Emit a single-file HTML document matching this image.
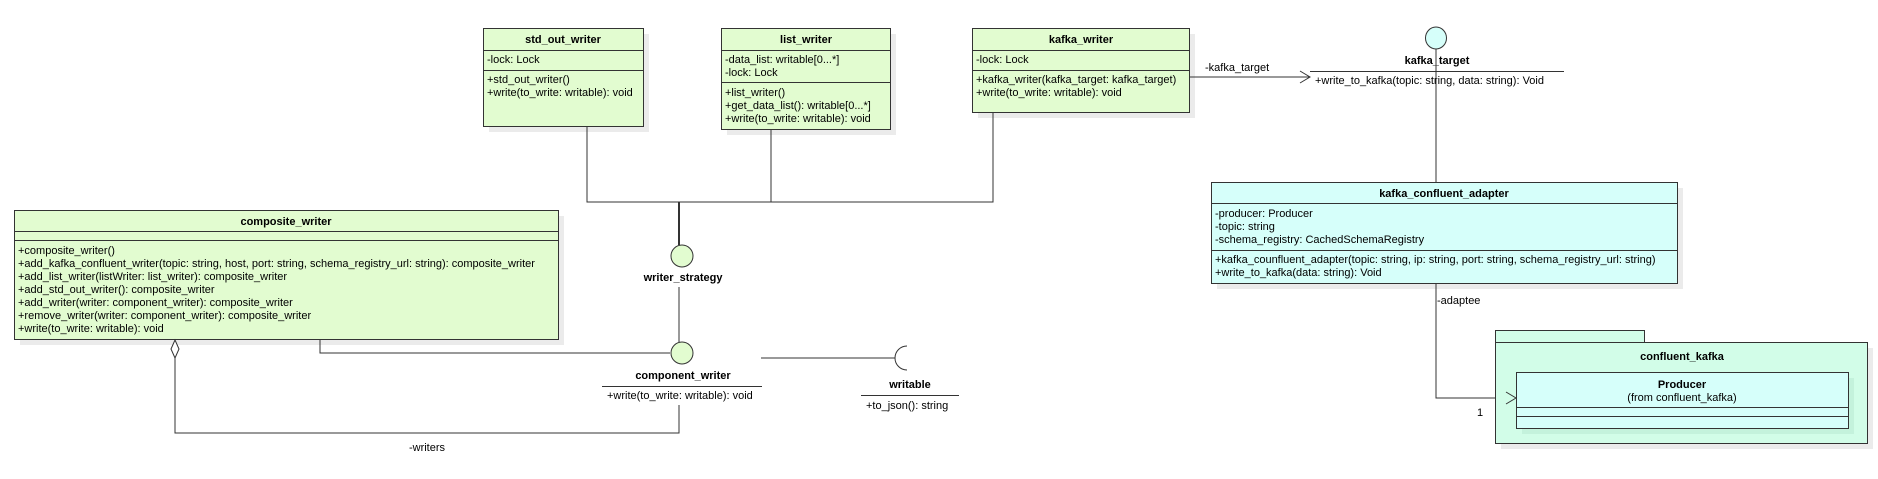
<!DOCTYPE html>
<html><head><meta charset="utf-8"><style>
html,body{margin:0;padding:0;background:#fff;}
svg{display:block;font-family:"Liberation Sans",Arial,sans-serif;font-size:11px;}
.b{font-weight:bold;}
</style></head><body>
<svg width="1878" height="479" viewBox="0 0 1878 479" xmlns="http://www.w3.org/2000/svg">
<g fill="#ebebeb">
<rect x="489" y="34" width="160" height="98"/>
<rect x="727" y="34" width="169" height="101"/>
<rect x="978" y="34" width="217" height="84"/>
<rect x="20" y="216" width="544" height="129"/>
<rect x="1217" y="188" width="466" height="101"/>
<rect x="1501" y="348" width="372" height="101"/>
</g>
<g fill="none" stroke="#333" stroke-width="1">
<!-- connectors -->
<polyline points="587,126 587,202 993,202 993,112"/>
<line x1="771" y1="129" x2="771" y2="202"/>
<line x1="679" y1="202" x2="679" y2="245" stroke-width="2"/>
<line x1="679" y1="287" x2="679" y2="342"/>
<polyline points="320,339 320,353 670,353"/>
<polyline points="679,405 679,433 175,433 175,358"/>
<line x1="761" y1="358" x2="895" y2="358"/>
<path d="M907,346 A12,12 0 0 0 907,370"/>
<line x1="1189" y1="77" x2="1310" y2="77"/>
<polyline points="1300,71 1310,77 1300,83"/>
<line x1="1436" y1="49" x2="1436" y2="182"/>
<polyline points="1436,283 1436,398 1516,398"/>
<polyline points="1506,392 1516,398 1506,404"/>
</g>
<!-- std_out_writer -->
<rect x="483.5" y="28.5" width="160" height="98" fill="#e2fcd0" stroke="#333"/>
<line x1="483" y1="50.5" x2="644" y2="50.5" stroke="#333"/>
<line x1="483" y1="70.5" x2="644" y2="70.5" stroke="#333"/>
<text x="563" y="43" class="b" text-anchor="middle">std_out_writer</text>
<text x="487" y="63">-lock: Lock</text>
<text x="487" y="83">+std_out_writer()</text>
<text x="487" y="96">+write(to_write: writable): void</text>
<!-- list_writer -->
<rect x="721.5" y="28.5" width="169" height="101" fill="#e2fcd0" stroke="#333"/>
<line x1="721" y1="50.5" x2="891" y2="50.5" stroke="#333"/>
<line x1="721" y1="82.5" x2="891" y2="82.5" stroke="#333"/>
<text x="806" y="43" class="b" text-anchor="middle">list_writer</text>
<text x="725" y="63">-data_list: writable[0...*]</text>
<text x="725" y="76">-lock: Lock</text>
<text x="725" y="96">+list_writer()</text>
<text x="725" y="109">+get_data_list(): writable[0...*]</text>
<text x="725" y="122">+write(to_write: writable): void</text>
<!-- kafka_writer -->
<rect x="972.5" y="28.5" width="217" height="84" fill="#e2fcd0" stroke="#333"/>
<line x1="972" y1="50.5" x2="1190" y2="50.5" stroke="#333"/>
<line x1="972" y1="70.5" x2="1190" y2="70.5" stroke="#333"/>
<text x="1081" y="43" class="b" text-anchor="middle">kafka_writer</text>
<text x="976" y="63">-lock: Lock</text>
<text x="976" y="83">+kafka_writer(kafka_target: kafka_target)</text>
<text x="976" y="96">+write(to_write: writable): void</text>
<text x="1205" y="71">-kafka_target</text>
<!-- composite_writer -->
<rect x="14.5" y="210.5" width="544" height="129" fill="#e2fcd0" stroke="#333"/>
<line x1="14" y1="231.5" x2="559" y2="231.5" stroke="#333"/>
<line x1="14" y1="240.5" x2="559" y2="240.5" stroke="#333"/>
<text x="286" y="225" class="b" text-anchor="middle">composite_writer</text>
<text x="18" y="254">+composite_writer()</text>
<text x="18" y="267">+add_kafka_confluent_writer(topic: string, host, port: string, schema_registry_url: string): composite_writer</text>
<text x="18" y="280">+add_list_writer(listWriter: list_writer): composite_writer</text>
<text x="18" y="293">+add_std_out_writer(): composite_writer</text>
<text x="18" y="306">+add_writer(writer: component_writer): composite_writer</text>
<text x="18" y="319">+remove_writer(writer: component_writer): composite_writer</text>
<text x="18" y="332">+write(to_write: writable): void</text>
<polygon points="175,340 179,349 175,358 171,349" fill="#fff" stroke="#333"/>
<text x="427" y="451" text-anchor="middle">-writers</text>
<!-- interfaces -->
<ellipse cx="682" cy="256" rx="11" ry="11" fill="#e2fcd0" stroke="#333"/>
<text x="683" y="281" class="b" text-anchor="middle">writer_strategy</text>
<ellipse cx="682" cy="353" rx="11" ry="11" fill="#e2fcd0" stroke="#333"/>
<text x="683" y="379" class="b" text-anchor="middle">component_writer</text>
<line x1="602" y1="386.5" x2="762" y2="386.5" stroke="#333"/>
<text x="607" y="399">+write(to_write: writable): void</text>
<text x="910" y="388" class="b" text-anchor="middle">writable</text>
<line x1="861" y1="395.5" x2="959" y2="395.5" stroke="#333"/>
<text x="866" y="409">+to_json(): string</text>
<ellipse cx="1436" cy="38" rx="10.5" ry="11" fill="#d6fffa" stroke="#333"/>
<text x="1437" y="64" class="b" text-anchor="middle">kafka_target</text>
<line x1="1310" y1="71.5" x2="1564" y2="71.5" stroke="#333"/>
<text x="1315" y="84">+write_to_kafka(topic: string, data: string): Void</text>
<line x1="1436" y1="49" x2="1436" y2="90" stroke="#333"/>
<!-- adapter -->
<rect x="1211.5" y="182.5" width="466" height="101" fill="#d6fffa" stroke="#333"/>
<line x1="1211" y1="203.5" x2="1678" y2="203.5" stroke="#333"/>
<line x1="1211" y1="250.5" x2="1678" y2="250.5" stroke="#333"/>
<text x="1444" y="197" class="b" text-anchor="middle">kafka_confluent_adapter</text>
<text x="1215" y="217">-producer: Producer</text>
<text x="1215" y="230">-topic: string</text>
<text x="1215" y="243">-schema_registry: CachedSchemaRegistry</text>
<text x="1215" y="263">+kafka_counfluent_adapter(topic: string, ip: string, port: string, schema_registry_url: string)</text>
<text x="1215" y="276">+write_to_kafka(data: string): Void</text>
<text x="1437" y="304">-adaptee</text>
<text x="1477" y="416">1</text>
<!-- package -->
<rect x="1495.5" y="330.5" width="149" height="12" fill="#d2fde8" stroke="#333"/>
<rect x="1495.5" y="342.5" width="372" height="101" fill="#d2fde8" stroke="#333"/>
<text x="1682" y="360" class="b" text-anchor="middle">confluent_kafka</text>
<rect x="1522" y="378" width="332" height="56" fill="#c4f2dc"/>
<rect x="1516.5" y="372.5" width="332" height="56" fill="#d6fffa" stroke="#333"/>
<line x1="1516" y1="407.5" x2="1849" y2="407.5" stroke="#333"/>
<line x1="1516" y1="416.5" x2="1849" y2="416.5" stroke="#333"/>
<text x="1682" y="388" class="b" text-anchor="middle">Producer</text>
<text x="1682" y="401" text-anchor="middle">(from confluent_kafka)</text>
<polyline points="1506,392 1516,398 1506,404" fill="none" stroke="#333"/>
</svg>
</body></html>
